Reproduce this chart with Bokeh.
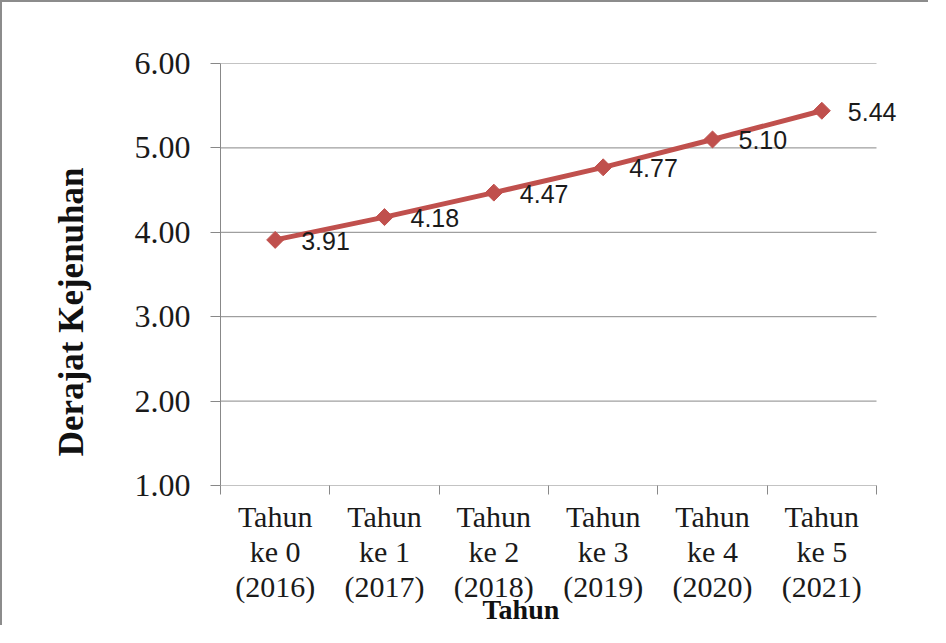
import math
from bokeh.plotting import figure
from bokeh.models import (ColumnDataSource, FixedTicker, PrintfTickFormatter, Title, Range1d, LabelSet)
from bokeh.embed import file_html
from bokeh.resources import INLINE
from bokeh.core.properties import value

# ---- data ----
categories = ["Tahun\nke 0\n(2016)", "Tahun\nke 1\n(2017)", "Tahun\nke 2\n(2018)",
              "Tahun\nke 3\n(2019)", "Tahun\nke 4\n(2020)", "Tahun\nke 5\n(2021)"]
derajat = [3.91, 4.18, 4.47, 4.77, 5.10, 5.44]
y_ticks = [1.0, 2.0, 3.0, 4.0, 5.0, 6.0]

n = len(categories)
xpos = [i + 0.5 for i in range(n)]
labels = [f"{v:.2f}" for v in derajat]
src = ColumnDataSource(dict(x=xpos, y=derajat, lab=labels))
grid_src = ColumnDataSource(dict(x0=[0] * len(y_ticks), x1=[n] * len(y_ticks),
                                 y0=y_ticks, y1=y_ticks))

SERIF = "Liberation Serif"
GRAY = "#888888"
RED = "#C0504D"

# frame extends a little past the last category so the last data label is not clipped
X_END = n * 692 / 656

p = figure(width=928, height=625, output_backend="svg", toolbar_location=None,
           x_range=Range1d(0, X_END), y_range=Range1d(1, 6),
           min_border_left=218, min_border_top=61, min_border_right=18, min_border_bottom=142)
p.styles = {"border-left": "2px solid #8c8c8c", "border-top": "2px solid #8c8c8c"}
p.outline_line_color = None
p.background_fill_color = "white"
p.border_fill_color = "white"

# grid (drawn only across the category area)
p.xgrid.grid_line_color = None
p.ygrid.grid_line_color = None
p.segment("x0", "y0", "x1", "y1", source=grid_src, line_color=GRAY, line_width=1)

# y axis
ya = p.yaxis[0]
ya.ticker = FixedTicker(ticks=y_ticks)
ya.formatter = PrintfTickFormatter(format="%.2f")
ya.axis_line_color = GRAY
ya.major_tick_line_color = GRAY
ya.major_tick_out = 10
ya.major_tick_in = 0
ya.minor_tick_line_color = None
ya.major_label_standoff = 20
ya.major_label_text_font = SERIF
ya.major_label_text_font_size = "32px"
ya.major_label_text_color = "#1a1a1a"

# x axis
xa = p.xaxis[0]
xa.ticker = FixedTicker(ticks=xpos, minor_ticks=list(range(n + 1)))
xa.major_label_overrides = {x: c for x, c in zip(xpos, categories)}
xa.axis_line_color = None
xa.major_tick_out = 0
xa.major_tick_in = 0
xa.minor_tick_out = 9
xa.minor_tick_in = 0
xa.minor_tick_line_color = GRAY
xa.major_label_standoff = 5
xa.major_label_text_font = SERIF
xa.major_label_text_font_size = "30px"
xa.major_label_text_line_height = 1.07
xa.major_label_text_color = "#1a1a1a"

# titles
tx = Title(text="Tahun", align="left", offset=262, text_font=SERIF,
           text_font_size="28px", text_font_style="bold", text_color="#111111",
           vertical_align="top", standoff=-26)
p.add_layout(tx, "below")
ty = Title(text="Derajat Kejenuhan", align="right", offset=104, text_font=SERIF,
           text_font_size="35px", text_font_style="bold", text_color="#111111",
           vertical_align="middle", standoff=79)
p.add_layout(ty, "left")

# series
p.line("x", "y", source=src, line_color=RED, line_width=5)
p.scatter("x", "y", source=src, marker="square", angle=math.pi / 4, size=12,
          fill_color=RED, line_color=RED)
p.add_layout(LabelSet(x="x", y="y", text="lab", source=src, x_offset=26, y_offset=-1,
                      text_font=value("Liberation Sans"), text_font_size=value("25px"),
                      text_baseline="middle", text_align="left", text_color="#1a1a1a"))

open("out.html", "w").write(file_html(p, INLINE))
